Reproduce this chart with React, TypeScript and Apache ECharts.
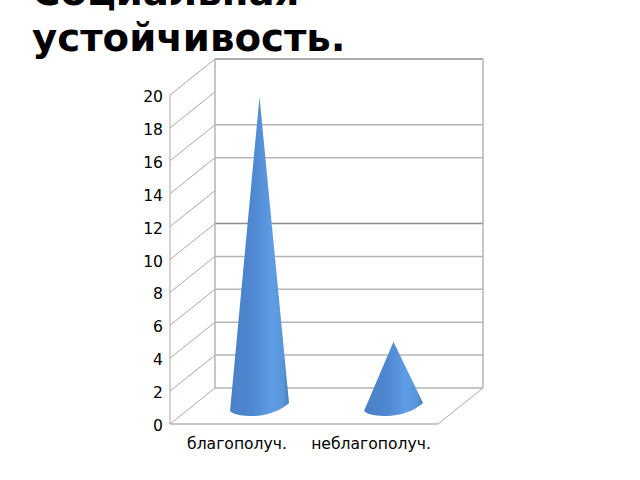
import React, { useEffect, useRef } from "react";
import * as echarts from "echarts";

const titleLines = ["Социальная", "устойчивость."];
const categories = ["благополуч.", "неблагополуч."];
const values = [18.8, 3.9];
const yMin = 0;
const yMax = 20;
const yStep = 2;
const gridValues = [2, 4, 6, 8, 10, 12, 14, 16, 18, 20];
const backLineValues = [2, 4, 6, 8, 14, 16];
const darkBackLineValues = [10, 20];

const DX = 45;
const DY = -36;
const LINE = "#b4b4b4";
const SIDE = "#a8a8a8";
const DARK = "#8c8c8c";

export default function App() {
  const ref = useRef<HTMLDivElement>(null);
  useEffect(() => {
    const chart = echarts.init(ref.current!, undefined, { renderer: "svg" });
    const side = { stroke: SIDE, lineWidth: 1, fill: "none" };
    const back = { stroke: LINE, lineWidth: 1.5, fill: "none" };
    const dark = { stroke: DARK, lineWidth: 1.5, fill: "none" };
    const seg = (a: number[], b: number[], style: any) => ({
      type: "line",
      shape: { x1: a[0], y1: a[1], x2: b[0], y2: b[1] },
      style,
    });
    chart.setOption({
      animation: false,
      textStyle: { fontFamily: "DejaVu Sans" },
      graphic: titleLines.map((t, i) => ({
        type: "text",
        x: 32,
        y: -28 + i * 46,
        style: { text: t, font: "bold 38.7px 'DejaVu Sans'", fill: "#000" },
      })),
      grid: { left: 170, top: 95, width: 268, height: 329 },
      xAxis: {
        type: "category",
        data: categories,
        axisLine: { show: false },
        axisTick: { show: false },
        axisLabel: { color: "#000", fontSize: 15.6, margin: 11.5, interval: 0 },
      },
      yAxis: {
        type: "value",
        min: yMin,
        max: yMax,
        interval: yStep,
        splitLine: { show: false },
        axisLine: { show: false },
        axisTick: { show: false },
        axisLabel: { color: "#000", fontSize: 15.6, margin: 7, verticalAlign: "top", lineHeight: 4 },
      },
      series: [
        {
          type: "custom",
          coordinateSystem: "cartesian2d",
          silent: true,
          clip: false,
          z: 1,
          data: [[0, 0]],
          encode: { x: 0, y: 1 },
          renderItem: (_p: any, api: any) => {
            const x0 = api.coord([0, 0])[0] - api.size([1, 0])[0] / 2;
            const x1 = x0 + api.size([1, 0])[0] * 2;
            const yOf = (v: number) => api.coord([0, v])[1];
            const children: any[] = [];
            gridValues.forEach((v) => {
              children.push(seg([x0, yOf(v)], [x0 + DX, yOf(v) + DY], side));
            });
            backLineValues.forEach((v) => {
              children.push(seg([x0 + DX, yOf(v) + DY], [x1 + DX, yOf(v) + DY], back));
            });
            darkBackLineValues.forEach((v) => {
              children.push(seg([x0 + DX, yOf(v) + DY], [x1 + DX, yOf(v) + DY], dark));
            });
            children.push(seg([x0, yOf(0)], [x0, yOf(yMax)], side));
            children.push(seg([x0 + DX, yOf(0) + DY], [x0 + DX, yOf(yMax) + DY], back));
            children.push(seg([x1 + DX, yOf(0) + DY], [x1 + DX, yOf(yMax) + DY], back));
            children.push(seg([x0, yOf(0)], [x1, yOf(0)], back));
            children.push(seg([x0, yOf(0)], [x0 + DX, yOf(0) + DY], side));
            children.push(seg([x1, yOf(0)], [x1 + DX, yOf(0) + DY], side));
            children.push(seg([x0 + DX, yOf(0) + DY], [x1 + DX, yOf(0) + DY], back));
            return { type: "group", children };
          },
        },
        {
          type: "custom",
          coordinateSystem: "cartesian2d",
          silent: true,
          clip: false,
          z: 2,
          data: values.map((v, i) => [i, v]),
          encode: { x: 0, y: 1 },
          renderItem: (_p: any, api: any) => {
            const i = api.value(0);
            const v = api.value(1);
            const base = api.coord([i, 0]);
            const top = api.coord([i, v]);
            const cx = base[0] + DX / 2;
            const by = base[1] + DY / 2;
            const ty = top[1] + DY / 2;
            const p = (dx: number, dy: number) => `${cx + dx} ${by + dy}`;
            const d = `M ${cx} ${ty} L ${p(29.5, -3)} C ${p(21, 5)} ${p(6, 10)} ${p(-7, 10)} C ${p(-16, 10)} ${p(-26, 9)} ${p(-29.5, 5)} Z`;
            const left = cx - 29.5;
            return {
              type: "path",
              shape: {
                pathData: d,
                layout: "cover",
                x: left,
                y: ty,
                width: 59,
                height: by + 10 - ty,
              },
              style: {
                fill: new echarts.graphic.LinearGradient(0, 0, 1, 0, [
                  { offset: 0, color: "#4a80c6" },
                  { offset: 0.4, color: "#4f88d0" },
                  { offset: 0.72, color: "#5e9de6" },
                  { offset: 0.9, color: "#5a95da" },
                  { offset: 1, color: "#437ab9" },
                ]),
              },
            };
          },
        },
      ],
    });
    return () => chart.dispose();
  }, []);
  return <div ref={ref} style={{ width: 640, height: 480, position: "absolute", left: 0, top: 0 }} />;
}
